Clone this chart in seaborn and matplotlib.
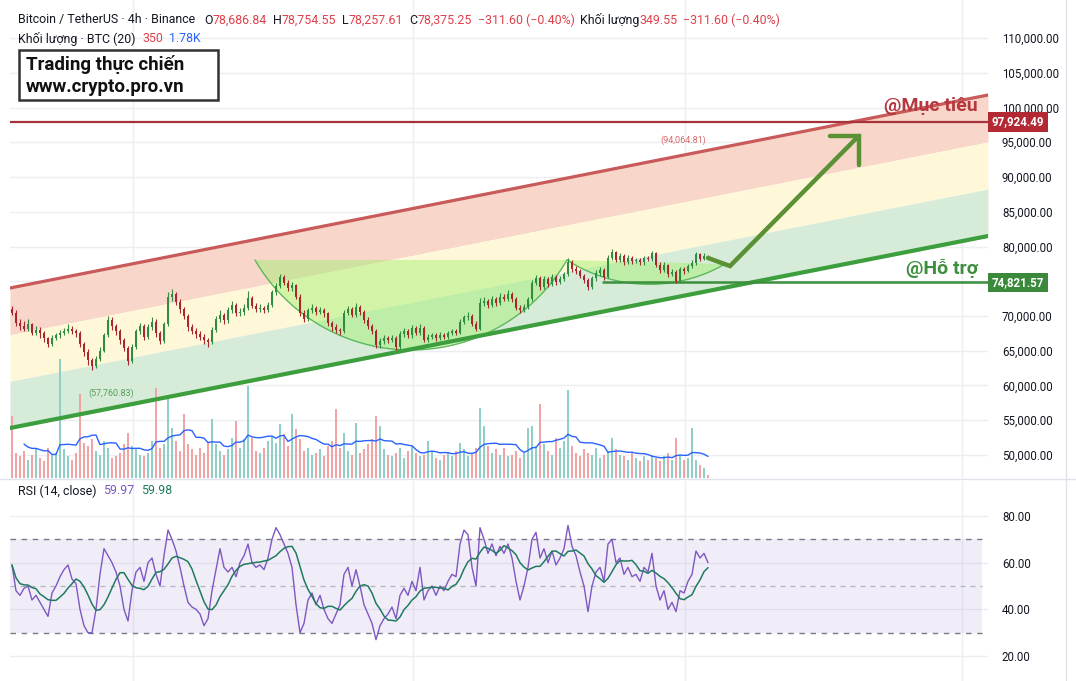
import numpy as np
import pandas as pd
import matplotlib
matplotlib.use("Agg")
import matplotlib.pyplot as plt
import matplotlib.transforms as mtrans
import seaborn as sns
from matplotlib.ticker import FuncFormatter
from matplotlib.lines import Line2D
from matplotlib.patches import Rectangle

W, H = 1076, 681

# ── 4h candles BTC/USDT (thousand USDT) ───────────────────────────────────────
open0_k = 71.0
close_k = [
    70.5, 69.0, 68.5, 68.2, 68.8, 67.6, 68.0, 67.5, 66.8, 65.9,
    66.8, 67.2, 67.5, 67.9, 68.2, 67.8, 67.6, 66.0, 64.8, 63.6,
    62.8, 63.8, 65.0, 67.2, 69.4, 68.5, 67.9, 66.5, 65.4, 63.5,
    65.5, 67.8, 68.5, 67.0, 68.4, 69.2, 67.5, 66.4, 68.8, 72.8,
    73.2, 72.0, 71.0, 70.0, 68.4, 67.9, 67.4, 67.0, 66.5, 66.2,
    68.0, 69.5, 70.2, 69.4, 70.8, 71.6, 70.4, 70.6, 71.2, 72.6,
    71.5, 71.0, 71.2, 70.9, 71.6, 73.4, 74.3, 75.6, 74.8, 74.0,
    74.4, 72.8, 70.5, 69.6, 70.8, 71.2, 70.6, 70.9, 70.4, 69.0,
    68.4, 68.0, 67.8, 70.5, 71.0, 70.2, 71.3, 70.6, 69.4, 68.6,
    67.8, 65.8, 66.4, 66.8, 66.5, 66.9, 65.6, 67.4, 67.8, 67.2,
    68.3, 67.6, 68.3, 66.6, 67.0, 67.2, 66.8, 67.3, 67.0, 67.5,
    67.8, 67.6, 69.2, 69.8, 70.0, 68.9, 68.2, 71.8, 72.2, 71.6,
    72.4, 71.9, 72.8, 72.5, 73.2, 72.4, 71.2, 70.9, 71.3, 72.4,
    74.8, 75.4, 74.2, 75.3, 74.6, 75.6, 74.9, 75.3, 76.0, 77.8,
    76.8, 76.5, 75.8, 75.2, 74.2, 75.4, 76.2, 76.6, 75.6, 78.4,
    79.2, 78.1, 78.6, 77.8, 78.4, 77.9, 78.0, 77.7, 78.3, 78.2,
    79.0, 77.4, 76.6, 77.3, 76.0, 76.4, 75.1, 76.8, 76.5, 77.2,
    77.6, 78.9, 78.2, 78.6, 78.375,
]
high_k = [
    71.4, 70.8, 69.6, 69.3, 69.5, 69.0, 68.5, 68.4, 67.9, 67.0,
    67.2, 67.6, 68.0, 68.3, 68.8, 68.5, 68.1, 67.8, 66.3, 65.2,
    64.0, 64.3, 65.5, 67.6, 70.0, 69.8, 68.9, 68.2, 66.8, 65.7,
    65.9, 68.2, 69.0, 68.8, 68.9, 69.8, 69.5, 67.8, 69.2, 73.4,
    73.9, 73.5, 72.4, 71.3, 70.3, 68.8, 68.3, 67.8, 67.4, 66.9,
    68.4, 70.0, 70.8, 70.5, 71.3, 72.1, 71.9, 71.1, 71.7, 73.6,
    72.9, 71.8, 71.7, 71.5, 72.0, 73.8, 74.8, 76.1, 75.9, 75.2,
    74.9, 74.6, 73.1, 70.9, 71.2, 71.7, 71.5, 71.3, 71.2, 70.6,
    69.3, 68.8, 68.3, 70.9, 71.5, 71.3, 71.8, 71.6, 70.9, 69.8,
    68.9, 68.1, 66.8, 67.2, 67.1, 67.3, 67.1, 67.8, 68.3, 68.1,
    68.7, 68.6, 68.8, 68.5, 67.4, 67.6, 67.5, 67.7, 67.6, 67.9,
    68.2, 68.1, 69.6, 70.2, 70.6, 70.3, 69.3, 72.6, 72.7, 72.5,
    72.9, 72.7, 73.3, 73.1, 73.7, 73.5, 72.7, 71.6, 71.7, 72.8,
    75.2, 75.9, 75.7, 75.7, 75.6, 76.0, 75.9, 75.7, 76.4, 78.3,
    78.1, 77.2, 76.8, 76.1, 75.5, 75.8, 76.6, 77.0, 76.9, 78.8,
    79.6, 79.4, 79.0, 78.9, 78.8, 78.7, 78.4, 78.3, 78.7, 78.7,
    79.4, 79.2, 77.7, 77.7, 77.5, 76.8, 76.6, 77.1, 77.0, 77.5,
    78.0, 79.2, 79.1, 79.0, 78.755,
]
low_k = [
    70.1, 68.6, 68.0, 67.8, 67.9, 67.2, 67.2, 66.9, 66.3, 65.5,
    65.7, 66.5, 66.9, 67.2, 67.6, 67.4, 67.0, 65.6, 64.2, 63.0,
    62.3, 62.5, 63.5, 64.8, 67.0, 68.0, 67.3, 66.0, 64.9, 63.0,
    63.2, 65.2, 67.4, 66.5, 66.7, 68.0, 67.0, 65.9, 66.1, 68.5,
    72.2, 71.6, 70.5, 69.5, 67.9, 67.4, 66.9, 66.5, 66.0, 65.6,
    65.9, 67.7, 69.1, 68.9, 69.0, 70.4, 70.0, 70.0, 70.2, 70.9,
    71.1, 70.6, 70.6, 70.5, 70.6, 71.3, 73.0, 74.0, 74.4, 73.6,
    73.6, 72.4, 70.0, 69.1, 69.3, 70.5, 70.2, 70.3, 69.9, 68.6,
    67.9, 67.5, 67.3, 67.6, 70.1, 69.8, 69.9, 70.2, 69.0, 68.2,
    67.4, 65.4, 65.4, 66.0, 66.1, 66.2, 65.1, 65.3, 67.0, 66.8,
    66.9, 67.2, 67.3, 66.2, 66.2, 66.7, 66.4, 66.5, 66.7, 66.7,
    67.2, 67.2, 67.4, 68.9, 69.4, 68.5, 67.8, 68.0, 71.4, 71.2,
    71.3, 71.5, 71.6, 72.1, 72.2, 72.0, 70.8, 70.5, 70.6, 71.0,
    72.1, 74.5, 73.8, 73.9, 74.2, 74.3, 74.5, 74.6, 75.0, 75.8,
    76.4, 76.1, 75.4, 74.8, 73.7, 73.9, 75.1, 75.8, 75.2, 75.4,
    78.0, 77.7, 77.8, 77.4, 77.5, 77.5, 77.6, 77.3, 77.4, 77.9,
    77.9, 77.0, 76.2, 76.3, 75.6, 75.7, 74.8, 74.9, 76.1, 76.3,
    76.9, 77.4, 77.9, 78.0, 78.258,
]
# volume (thousand BTC)
volume_k = [
    7.4, 3.0, 2.6, 3.2, 2.2, 2.8, 3.5, 2.4, 2.0, 3.6,
    2.8, 3.0, 14.2, 3.4, 2.6, 2.2, 3.0, 10.0, 4.2, 3.8,
    4.6, 3.2, 2.8, 4.4, 3.6, 2.4, 2.6, 3.0, 4.0, 5.4,
    3.8, 3.4, 2.8, 2.6, 3.0, 4.4, 10.7, 3.6, 4.0, 9.5,
    6.0, 4.4, 3.2, 7.6, 4.0, 3.4, 2.8, 3.6, 3.0, 4.2,
    7.0, 4.0, 3.2, 2.8, 3.4, 4.8, 6.8, 3.6, 4.6, 11.0,
    4.8, 3.2, 3.0, 3.6, 4.4, 5.0, 4.2, 6.4, 5.2, 3.8,
    7.6, 5.8, 4.6, 3.2, 3.6, 2.8, 3.0, 3.4, 2.6, 3.8,
    4.4, 8.2, 3.6, 5.4, 3.2, 2.8, 6.6, 3.0, 3.4, 4.0,
    4.6, 7.4, 6.2, 3.4, 2.8, 2.6, 3.0, 3.6, 2.4, 3.2,
    3.8, 3.0, 2.6, 2.8, 4.4, 3.2, 2.4, 2.2, 2.8, 3.0,
    2.6, 3.2, 4.2, 3.4, 2.6, 3.0, 3.6, 8.3, 6.2, 3.8,
    3.0, 3.4, 2.8, 3.6, 2.6, 2.8, 3.2, 2.4, 3.0, 6.0,
    6.2, 3.8, 8.8, 4.0, 3.2, 2.8, 4.8, 3.6, 4.4, 10.5,
    3.8, 3.0, 2.6, 3.4, 3.0, 2.8, 3.6, 2.4, 2.8, 3.2,
    4.8, 3.4, 2.8, 2.6, 2.2, 3.0, 2.4, 2.0, 2.6, 2.2,
    2.8, 2.4, 2.0, 2.6, 3.0, 2.2, 4.8, 2.8, 2.2, 2.4,
    6.0, 2.2, 1.6, 1.2, 0.35,
]
rsi = [
    59, 48, 46, 49, 50, 44, 46, 43, 40, 37,
    47, 50, 54, 57, 59, 53, 51, 40, 33, 30,
    30, 40, 55, 66, 63, 60, 56, 50, 40, 35,
    48, 56, 58, 52, 60, 62, 55, 50, 63, 74,
    70, 65, 58, 50, 43, 41, 40, 38, 33, 36,
    48, 57, 66, 58, 56, 58, 54, 60, 63, 68,
    60, 58, 59, 57, 62, 70, 75, 72, 68, 64,
    58, 42, 30, 34, 44, 47, 42, 46, 40, 36,
    34, 38, 42, 55, 58, 50, 57, 50, 42, 38,
    34, 27, 33, 36, 38, 41, 36, 46, 49, 46,
    52, 48, 58, 44, 48, 50, 46, 50, 48, 52,
    55, 54, 68, 74, 72, 58, 50, 75, 70, 64,
    68, 63, 67, 64, 68, 62, 52, 44, 50, 58,
    70, 73, 62, 66, 60, 65, 59, 62, 66, 76,
    67, 63, 56, 50, 39, 50, 56, 58, 52, 68,
    70, 60, 62, 55, 58, 54, 55, 52, 58, 56,
    64, 50, 44, 48, 40, 43, 39, 48, 47, 52,
    55, 65, 62, 64, 60,
]

# ── drawings (candle index, USDT) ─────────────────────────────────────────────
channel_x = [-0.5, 244.0]
channel_upper = [74030, 101800]
channel_lower = [53880, 81510]
target_price = 97924.49
support_price = 74821.57
support_start = 147.75
cup_pts = [(60.75, 78060), (99.75, 65110), (138.75, 78060)]
handle_pts = [(138.75, 78060), (157.0, 74600), (178.25, 77480)]
arrow_path = [(174.0, 78350), (179.5, 77190), (211.65, 95900)]
arrow_head = [(204.5, 95900), (211.65, 95900), (211.65, 91730)]
grid_idx = [30.25, 100.25, 168.25, 237.5]

UP, DOWN = "#2f8c40", "#a8262e"
RED_TXT, DARK = "#e0404a", "#131722"

idx = np.arange(len(close_k))
close = np.array(close_k) * 1000
high = np.array(high_k) * 1000
low = np.array(low_k) * 1000
opn = np.r_[open0_k * 1000, close[:-1]]
vol = np.array(volume_k)
vol_ma = pd.Series(vol).rolling(10, min_periods=4).mean()
rsi_ma = pd.Series(rsi, dtype=float).rolling(7, min_periods=1).mean()

sns.set_theme(style="white")
plt.rcParams["font.family"] = ["Roboto", "DejaVu Sans"]

fig = plt.figure(figsize=(W / 100, H / 100), dpi=100)
rect_p = [10 / W, 1 - 478 / H, 978 / W, 478 / H]
ax_bg = fig.add_axes(rect_p, zorder=0)
ax_v = fig.add_axes(rect_p, zorder=1)
ax = fig.add_axes(rect_p, zorder=2)
ax_r = fig.add_axes([10 / W, 0, 978 / W, 200 / H], zorder=0)

ylim_p = (46690, 115470)
price_ticks = np.arange(50000, 110001, 5000)
for a in (ax_bg, ax_v, ax, ax_r):
    a.set_xlim(-0.5, 244.0)
    for s in a.spines.values():
        s.set_visible(False)
for a in (ax_v, ax):
    a.patch.set_visible(False)

# background: grid + channel zones + cup fills
ax_bg.set_ylim(*ylim_p)
ax_bg.set_yticks(price_ticks)
ax_bg.set_xticks(grid_idx)
ax_bg.tick_params(length=0, labelleft=False, labelbottom=False)
ax_bg.grid(True, color="#eceef2", lw=1)

cx = np.array(channel_x)
up = np.array(channel_upper, float)
lo = np.array(channel_lower, float)
b1 = up - (up - lo) / 3
b2 = up - 2 * (up - lo) / 3
ax_bg.fill_between(cx, b1, up, color="#f8d6c9", lw=0)
ax_bg.fill_between(cx, b2, b1, color="#fff8d8", lw=0)
ax_bg.fill_between(cx, lo, b2, color="#d7ebd9", lw=0)


def arc_points(p1, pm, p2, n=150):
    sc = np.array([4.0, 6.95e-3])
    P = np.array([p1, pm, p2], float) * sc
    (x1, y1), (x2, y2), (x3, y3) = P
    d = 2 * (x1 * (y2 - y3) + x2 * (y3 - y1) + x3 * (y1 - y2))
    ux = ((x1**2 + y1**2) * (y2 - y3) + (x2**2 + y2**2) * (y3 - y1) + (x3**2 + y3**2) * (y1 - y2)) / d
    uy = ((x1**2 + y1**2) * (x3 - x2) + (x2**2 + y2**2) * (x1 - x3) + (x3**2 + y3**2) * (x2 - x1)) / d
    r = np.hypot(x1 - ux, y1 - uy)
    a1, am, a3 = [np.arctan2(y - uy, x - ux) for x, y in P]
    tm, t3 = (am - a1) % (2 * np.pi), (a3 - a1) % (2 * np.pi)
    ang = a1 + np.linspace(0, t3, n) if tm < t3 else a1 - np.linspace(0, 2 * np.pi - t3, n)
    return np.c_[ux + r * np.cos(ang), uy + r * np.sin(ang)] / sc


for pts3 in (cup_pts, handle_pts):
    arc = arc_points(*pts3)
    ax_bg.fill(arc[:, 0], arc[:, 1], color="#9ef06a", alpha=0.45, lw=0)
    ax.plot(arc[:, 0], arc[:, 1], color="#5cb85c", lw=1, zorder=3)

# volume
ax_v.set_ylim(0, 57)
ax_v.set_yticks([])
ax_v.set_xticks([])
vcol = np.where(close >= opn, "#8fcfc6", "#f2a3a3")
ax_v.bar(idx, vol, width=0.62, color=vcol, lw=0)
sns.lineplot(x=idx, y=vol_ma.values, ax=ax_v, color="#2962ff", lw=1)

# price layer
ax.set_ylim(*ylim_p)
ax.set_yticks(price_ticks)
ax.set_xticks([])
ax.yaxis.tick_right()
ax.yaxis.set_major_formatter(FuncFormatter(lambda v, p: "" if v == 75000 else f"{v:,.2f}"))
ax.tick_params(axis="y", length=0, pad=10, labelsize=8.3, labelcolor=DARK)

ax.plot(cx, up, color="#c85a5a", lw=2.3, zorder=3)
ax.plot(cx, lo, color="#3c9e3c", lw=3.0, zorder=3)
ax.plot(cx, [target_price] * 2, color="#a8323a", lw=1.6, zorder=3)
ax.plot([support_start, cx[1]], [support_price] * 2, color="#3c8f3c", lw=1.8, zorder=3)

ccol = np.where(close >= opn, UP, DOWN)
ax.vlines(idx, low, high, colors=ccol, lw=0.8, zorder=4)
body_h = np.maximum(np.abs(close - opn), 40)
ax.bar(idx, body_h, bottom=np.minimum(opn, close), width=0.6, color=ccol, lw=0, zorder=4)

ax.plot(*zip(*arrow_path), color="#5a9135", lw=3.2, zorder=5, solid_joinstyle="miter")
ax.plot(*zip(*arrow_head), color="#5a9135", lw=3.2, zorder=5, solid_joinstyle="miter")

ax.text(24.75, 58920, "(57,760.83)", color="#57a057", fontsize=6.5, ha="center", va="center")
ax.text(167.75, 95320, "(94,064.81)", color="#d86a6a", fontsize=6.5, ha="center", va="center")
ax.text(241.5, 100220, "@Mục tiêu", color="#b5373f", fontsize=14, fontweight="bold",
        ha="right", va="center", zorder=6)
ax.text(241.5, 76910, "@Hỗ trợ", color="#3d8f3d", fontsize=14, fontweight="bold",
        ha="right", va="center", zorder=6)

blend = mtrans.blended_transform_factory(ax.transAxes, ax.transData)
for price, fc in ((target_price, "#b22833"), (support_price, "#3b8a3b")):
    ax.text(1.004, price, f"{price:,.2f}", transform=blend, ha="left", va="center",
            color="white", fontsize=8.3, fontweight="bold", clip_on=False, zorder=7,
            bbox=dict(boxstyle="square,pad=0.3", fc=fc, ec="none"))

# RSI panel
ax_r.set_ylim(9.3, 95.0)
ax_r.set_yticks([20, 40, 60, 80])
ax_r.set_xticks(grid_idx)
ax_r.yaxis.tick_right()
ax_r.yaxis.set_major_formatter(FuncFormatter(lambda v, p: f"{v:.2f}"))
ax_r.tick_params(axis="y", length=0, pad=10, labelsize=8.3, labelcolor=DARK)
ax_r.tick_params(axis="x", length=0, labelbottom=False)
ax_r.grid(True, color="#eceef2", lw=1)
ax_r.set_axisbelow(True)
ax_r.fill_between([-0.5, 242.5], 30, 70, color="#7e57c2", alpha=0.1, lw=0)
ax_r.hlines([70, 30], -0.5, 242.5, colors="#787b86", linestyles=(0, (4, 4)), lw=1)
ax_r.hlines([50], -0.5, 242.5, colors="#b2b5be", linestyles=(0, (4, 4)), lw=0.9)
sns.lineplot(x=idx, y=rsi, ax=ax_r, color="#7e57c2", lw=1)
sns.lineplot(x=idx, y=rsi_ma.values, ax=ax_r, color="#1f7a60", lw=1.1)
ax_r.set_xlabel("")
ax_r.set_ylabel("")
ax_v.set_ylabel("")

# panel separators
fig.add_artist(Line2D([0, 1], [1 - 478.5 / H] * 2, color="#e0e3eb", lw=1, zorder=5))
fig.add_artist(Line2D([1066 / W] * 2, [0, 1], color="#e0e3eb", lw=1, zorder=5))

# header legends
renderer = fig.canvas.get_renderer()


def seq_text(x_px, y_px, parts, size=8.9):
    x = x_px
    for s, c, gap in parts:
        t = fig.text(x / W, 1 - y_px / H, s, color=c, fontsize=size, va="center", ha="left", zorder=12)
        x = t.get_window_extent(renderer).x1 + gap


seq_text(18, 20, [("Bitcoin / TetherUS · 4h · Binance", DARK, 9),
                  ("O", DARK, 0), ("78,686.84", RED_TXT, 6),
                  ("H", DARK, 0), ("78,754.55", RED_TXT, 6),
                  ("L", DARK, 0), ("78,257.61", RED_TXT, 6),
                  ("C", DARK, 0), ("78,375.25", RED_TXT, 6),
                  ("−311.60 (−0.40%)", RED_TXT, 6),
                  ("Khối lượng", DARK, 0), ("349.55", RED_TXT, 5),
                  ("−311.60 (−0.40%)", RED_TXT, 0)])
seq_text(18, 39, [("Khối lượng · BTC (20)", DARK, 7), ("350", RED_TXT, 6), ("1.78K", "#2962ff", 0)])
seq_text(18, 491, [("RSI (14, close)", DARK, 7), ("59.97", "#7e57c2", 6), ("59.98", "#1f7a60", 0)])

fig.add_artist(Rectangle((19 / W, 1 - 100 / H), 199 / W, 50 / H, transform=fig.transFigure,
                         fc="white", ec="#333333", lw=1.8, zorder=10))
for y_px, s in ((65, "Trading thực chiến"), (87, "www.crypto.pro.vn")):
    fig.text(26 / W, 1 - y_px / H, s, fontsize=13.5, fontweight="bold", color="#111111",
             va="center", ha="left", zorder=11)

fig.savefig("out.png", dpi=100)
plt.close(fig)
